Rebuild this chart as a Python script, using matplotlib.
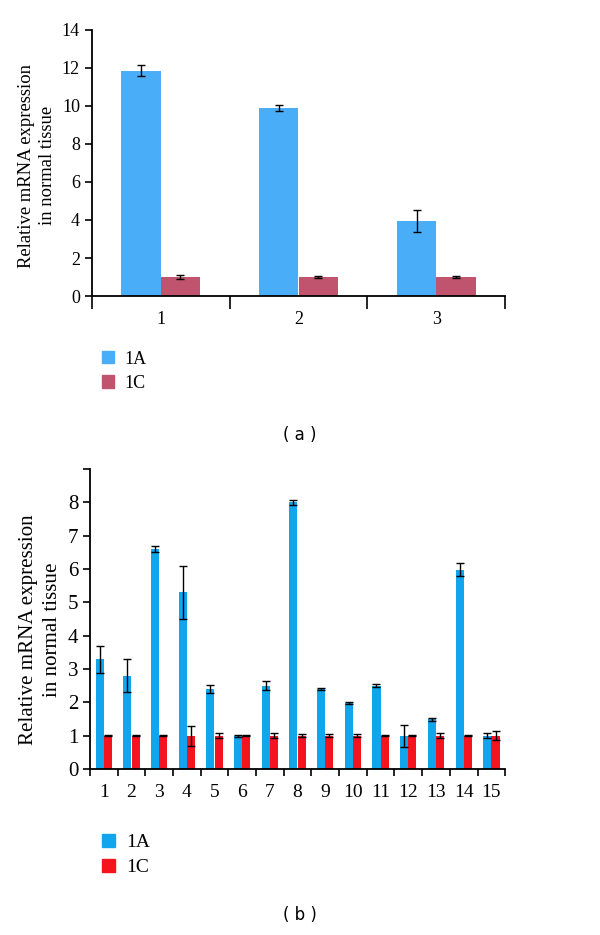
import numpy as np
import matplotlib
matplotlib.use('Agg')
import matplotlib.pyplot as plt
from matplotlib.patches import Patch

plt.rcParams['font.family'] = ['Liberation Serif', 'DejaVu Serif']

# panel (a)
a_groups = ['1', '2', '3']
a_1A = [11.85, 9.88, 3.95]
a_1A_err = [0.29, 0.15, 0.58]
a_1C = [1.0, 1.0, 1.0]
a_1C_err = [0.08, 0.03, 0.07]

# panel (b)
b_groups = [str(i) for i in range(1, 16)]
b_1A = [3.29, 2.8, 6.6, 5.3, 2.4, 1.0, 2.5, 8.0, 2.4, 1.98, 2.5, 1.0, 1.49, 5.98, 1.0]
b_1A_err = [0.4, 0.5, 0.1, 0.8, 0.13, 0.03, 0.14, 0.07, 0.02, 0.02, 0.04, 0.33, 0.05, 0.2, 0.07]
b_1C = [1.0] * 15
b_1C_err = [0.02, 0.02, 0.02, 0.3, 0.07, 0.01, 0.07, 0.04, 0.04, 0.04, 0.01, 0.02, 0.07, 0.02, 0.14]

ylabel = 'Relative mRNA expression\nin normal tissue'


def bar_panel(ax, groups, s1, e1, s2, e2, c1, c2, off, width, fs, capsize):
	x = np.arange(len(groups))
	eb = dict(ecolor='black', elinewidth=1, capsize=capsize, capthick=1)
	ax.bar(x - off, s1, width, color=c1, yerr=e1, error_kw=eb)
	ax.bar(x + off, s2, width, color=c2, yerr=e2, error_kw=eb)
	ax.set_xlim(-0.5, len(groups) - 0.5)
	ax.spines[['top', 'right']].set_visible(False)
	for s in ['left', 'bottom']:
		ax.spines[s].set_linewidth(1.3)
	ax.set_xticks(np.arange(len(groups) + 1) - 0.5)
	ax.set_xticklabels([])
	ax.set_xticks(x, minor=True)
	ax.set_xticklabels(groups, minor=True, fontsize=fs)
	ax.tick_params(axis='y', labelsize=fs, width=1.2, length=5)
	ax.tick_params(axis='x', which='minor', length=0)


fig = plt.figure(figsize=(6, 9.35), dpi=100)

ax1 = fig.add_axes([0.153, 0.6834, 0.689, 0.2846])
bar_panel(ax1, a_groups, a_1A, a_1A_err, a_1C, a_1C_err,
	'#4aadf7', '#c0536e', 0.143, 0.285, 13, 3)
ax1.set_ylim(0, 14)
ax1.set_yticks(range(0, 15, 2))
ax1.tick_params(axis='x', which='major', length=9, width=1.2)
ax1.tick_params(axis='x', which='minor', pad=11)
ax1.set_ylabel(ylabel, fontsize=13.4, va='center', ha='center', linespacing=1.3)
ax1.yaxis.set_label_coords(-0.132, 0.49)
ax1.legend(handles=[Patch(color='#4aadf7', label='1A'), Patch(color='#c0536e', label='1C')],
	loc='upper left', bbox_to_anchor=(0.17, 0.625), bbox_transform=fig.transFigure,
	frameon=False, fontsize=13, handlelength=0.65, handleheight=0.65,
	handletextpad=0.6, labelspacing=0.4, borderaxespad=0, borderpad=0)
fig.text(0.5, 0.535, '( a )', ha='center', va='center', fontsize=12, family='DejaVu Sans')

ax2 = fig.add_axes([0.15, 0.1775, 0.692, 0.3209])
bar_panel(ax2, b_groups, b_1A, b_1A_err, b_1C, b_1C_err,
	'#11a5ee', '#f5141e', 0.15, 0.29, 14, 3)
ax2.set_ylim(0, 9)
ax2.set_yticks(range(0, 10))
ax2.set_yticklabels([str(i) for i in range(9)] + [''])
ax2.tick_params(axis='y', labelsize=15)
ax2.tick_params(axis='x', which='major', length=5, width=1.2)
ax2.tick_params(axis='x', which='minor', pad=11)
ax2.set_ylabel(ylabel, fontsize=15.1, va='center', ha='center', linespacing=1.3)
ax2.yaxis.set_label_coords(-0.119, 0.463)
ax2.legend(handles=[Patch(color='#11a5ee', label='1A'), Patch(color='#f5141e', label='1C')],
	loc='upper left', bbox_to_anchor=(0.17, 0.108), bbox_transform=fig.transFigure,
	frameon=False, fontsize=14, handlelength=0.65, handleheight=0.65,
	handletextpad=0.6, labelspacing=0.4, borderaxespad=0, borderpad=0)
fig.text(0.5, 0.021, '( b )', ha='center', va='center', fontsize=12, family='DejaVu Sans')

fig.savefig('out.png', dpi=100)
